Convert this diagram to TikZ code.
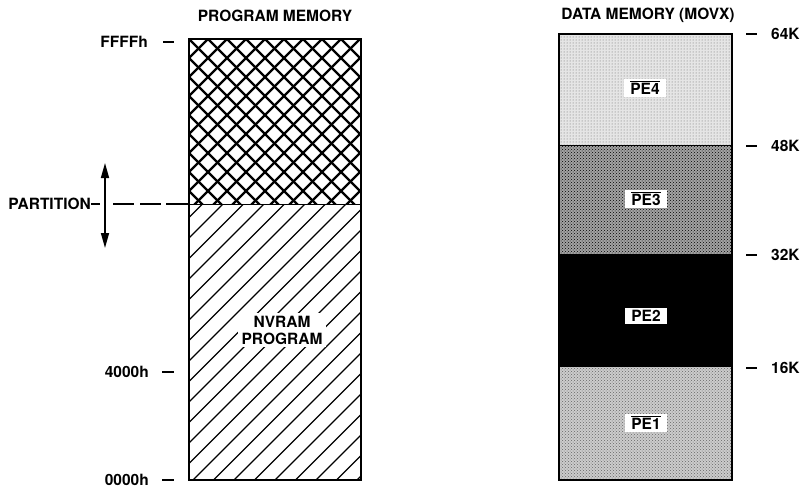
\documentclass[tikz,border=0pt]{standalone}
\usepackage{fontspec}
\setmainfont{TeX Gyre Heros}
\usetikzlibrary{patterns,arrows.meta}
\newcommand{\ovlbar}[1]{\leavevmode\vbox{\hrule height 0.9pt\kern1.6pt\hbox{#1}}}
\begin{document}
\begin{tikzpicture}[x=1pt,y=-1pt,
  lbl/.style={font=\bfseries\fontsize{15.5}{17}\selectfont, inner sep=0pt},
  tickline/.style={line width=1.4pt},
  border/.style={line width=1.8pt},
  pelbl/.style={lbl, fill=white, inner xsep=6pt, inner ysep=2.5pt},
  arrowhead/.tip={Triangle[length=15pt,width=8pt]}
]
\useasboundingbox (0,0) rectangle (803,490);

% ---------- PROGRAM MEMORY ----------
\node[lbl] (t1) at (275,16) {PROGRAM MEMORY};

\begin{scope}
  \clip (189,39) rectangle (361,204);
  \foreach \i in {-10,...,20} {
    \draw[line width=2.2pt] (189+\i*19,39) -- ++(180,180);
    \draw[line width=2.2pt] (189+\i*19,39) -- ++(-180,180);
  }
\end{scope}
\begin{scope}
  \clip (189,204) rectangle (361,480);
  \foreach \i in {-15,...,10} {
    \draw[line width=1.3pt] (193+\i*20.5,480) -- ++(300,-300);
  }
\end{scope}
\draw[line width=1pt] (189,204) -- (361,204);
\node[lbl, fill=white, inner xsep=4pt, inner ysep=3pt, align=center] (nv) at (282,330) {NVRAM\\PROGRAM};
\draw[border] (189,39) rectangle (361,480);
\coordinate (pbox) at (189,204);

\node[lbl, anchor=east] (ffff) at (148,42) {FFFFh};
\node[lbl, anchor=east] (h4000) at (149,372) {4000h};
\node[lbl, anchor=east] (h0000) at (149,480) {0000h};
\draw[tickline] (ffff.east) ++(15,0) -- ++(11,0);
\draw[tickline] (h4000.east) ++(13,0) -- ++(12,0);
\draw[tickline] (h0000.east) ++(13,0) -- ++(12,0);

\node[lbl, anchor=east] (part) at (91,204) {PARTITION};
\draw[line width=1.3pt, dash pattern=on 9pt off 13pt on 21pt off 6pt on 21pt off 5pt on 23pt off 0pt] (part.east) -- (pbox);
\coordinate (atop) at (105,163);
\coordinate (abot) at (105,248);
\draw[line width=1.6pt, arrowhead-arrowhead] (atop) -- (abot);

% ---------- DATA MEMORY ----------
\node[lbl] (t2) at (648,15) {DATA MEMORY (MOVX)};

\fill[black!10] (559,34) rectangle (732,145);
\fill[black!36] (559,145) rectangle (732,254);
\fill[black] (559,254) rectangle (732,367);
\fill[black!20] (559,367) rectangle (732,480);
\fill[pattern=dots, pattern color=black!60] (559,34) rectangle (732,145);
\fill[pattern=crosshatch dots, pattern color=black] (559,145) rectangle (732,254);
\fill[pattern=crosshatch dots, pattern color=black!60] (559,367) rectangle (732,480);
\draw[line width=1pt] (559,145) -- (732,145);
\draw[border] (559,34) rectangle (732,480);

\node[pelbl] (pe4) at (645,88) {\ovlbar{PE4}};
\node[pelbl] (pe3) at (646,199) {\ovlbar{PE3}};
\node[pelbl] (pe2) at (646,316) {PE2};
\node[pelbl] (pe1) at (646,423) {\ovlbar{PE1}};

\node[lbl, anchor=west] (k64) at (771,34) {64K};
\node[lbl, anchor=west] (k48) at (771,146) {48K};
\node[lbl, anchor=west] (k32) at (771,255) {32K};
\node[lbl, anchor=west] (k16) at (771,368) {16K};
\foreach \k in {k64,k48,k32,k16} {
  \draw[tickline] (\k.west) ++(-25,0) -- ++(11,0);
}
\end{tikzpicture}
\end{document}
